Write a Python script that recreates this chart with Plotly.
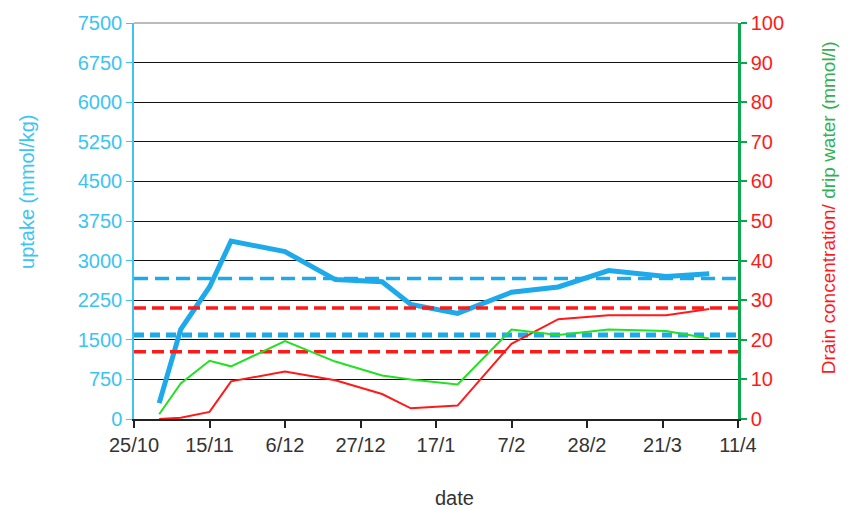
import pandas as pd
import plotly.graph_objects as go

# Sampling dates (season 2006/07) and measured series
dates = ["2006-11-01", "2006-11-07", "2006-11-15", "2006-11-21", "2006-12-06",
         "2006-12-20", "2007-01-02", "2007-01-10", "2007-01-23", "2007-02-07",
         "2007-02-20", "2007-03-06", "2007-03-22", "2007-04-03"]
uptake = [300, 1700, 2500, 3370, 3170, 2640, 2600, 2170, 2000, 2400, 2500, 2810, 2700, 2750]
drip_water = [1.2, 9.0, 14.7, 13.3, 19.7, 14.5, 11.0, 10.0, 8.7, 22.6, 21.2, 22.6, 22.2, 20.3]
drain = [0.0, 0.3, 1.8, 9.5, 12.0, 9.8, 6.3, 2.7, 3.4, 19.0, 25.2, 26.2, 26.2, 27.8]

# Reference levels
uptake_upper, uptake_lower = 2660, 1590
drain_upper, drain_lower = 28, 17

# Axis ticks
x_ticks = ["2006-10-25", "2006-11-15", "2006-12-06", "2006-12-27", "2007-01-17",
           "2007-02-07", "2007-02-28", "2007-03-21", "2007-04-11"]
x_labels = ["25/10", "15/11", "6/12", "27/12", "17/1", "7/2", "28/2", "21/3", "11/4"]
y_left_ticks = [0, 750, 1500, 2250, 3000, 3750, 4500, 5250, 6000, 6750, 7500]
y_right_ticks = [0, 10, 20, 30, 40, 50, 60, 70, 80, 90, 100]

x0, x1 = x_ticks[0], x_ticks[-1]
dts = pd.to_datetime(dates)

BLUE = "#1eaaea"
BLUE_TXT = "#3cc4f2"
RED = "#ff1a1a"
GREEN_LINE = "#22e022"
GREEN_AX = "#0aa84a"
FONT = "Liberation Sans, Arial, sans-serif"

fig = go.Figure()

# horizontal reference levels
fig.add_trace(go.Scatter(x=[x0, x1], y=[uptake_upper] * 2, mode="lines",
                         line=dict(color=BLUE, width=3.5, dash="14px,7px"),
                         hoverinfo="skip", showlegend=False))
fig.add_trace(go.Scatter(x=[x0, x1], y=[uptake_lower] * 2, mode="lines",
                         line=dict(color=BLUE, width=5, dash="10px,6px"),
                         hoverinfo="skip", showlegend=False))
fig.add_trace(go.Scatter(x=[x0, x1], y=[drain_upper] * 2, mode="lines", yaxis="y2",
                         line=dict(color=RED, width=3.5, dash="12px,6px"),
                         hoverinfo="skip", showlegend=False))
fig.add_trace(go.Scatter(x=[x0, x1], y=[drain_lower] * 2, mode="lines", yaxis="y2",
                         line=dict(color=RED, width=3.5, dash="12px,6px"),
                         hoverinfo="skip", showlegend=False))

# measured series
fig.add_trace(go.Scatter(x=dts, y=drain, mode="lines", yaxis="y2", name="drain",
                         line=dict(color=RED, width=2)))
fig.add_trace(go.Scatter(x=dts, y=drip_water, mode="lines", yaxis="y2", name="drip water",
                         line=dict(color=GREEN_LINE, width=2)))
fig.add_trace(go.Scatter(x=dts, y=uptake, mode="lines", name="uptake",
                         line=dict(color=BLUE, width=5)))

fig.update_layout(
    width=848, height=509,
    margin=dict(l=134, r=110, t=19, b=90),
    paper_bgcolor="white", plot_bgcolor="white",
    showlegend=False,
    font=dict(family=FONT, size=20, color="#333333"),
    xaxis=dict(
        type="date", range=[x0, x1],
        tickmode="array", tickvals=x_ticks, ticktext=x_labels,
        showgrid=False, zeroline=False,
        showline=True, linecolor="#222222", linewidth=1.5,
        ticks="outside", ticklen=7, tickwidth=1.5, tickcolor="#222222",
        tickfont=dict(size=20, color="#333333"),
    ),
    yaxis=dict(
        range=[0, 7500], tickmode="array", tickvals=y_left_ticks,
        showgrid=True, gridcolor="#111111", gridwidth=1,
        zeroline=False,
        showline=True, linecolor=BLUE_TXT, linewidth=1.5,
        ticks="outside", ticklen=6, tickcolor=BLUE_TXT,
        tickfont=dict(size=20, color=BLUE_TXT),
    ),
    yaxis2=dict(
        range=[0, 100], overlaying="y", side="right",
        tickmode="array", tickvals=y_right_ticks,
        showgrid=False, zeroline=False,
        showline=True, linecolor=GREEN_AX, linewidth=2.5,
        ticks="outside", ticklen=6, tickwidth=2, tickcolor=GREEN_AX,
        tickfont=dict(size=20, color=RED),
    ),
)

# top border line at the highest gridline
fig.add_shape(type="line", xref="paper", yref="paper", x0=0, x1=1, y0=1, y1=1,
              line=dict(color="#777777", width=1))

# axis titles
fig.add_annotation(text="uptake (mmol/kg)", xref="paper", yref="paper",
                   x=-0.176, y=0.575, xanchor="center", yanchor="middle",
                   textangle=-90, showarrow=False,
                   font=dict(size=20, color=BLUE_TXT))
fig.add_annotation(
    text="<span style='color:%s'>Drain concentration/</span>"
         "<span style='color:%s'> drip water (mmol/l)</span>" % (RED, "#33b050"),
    xref="paper", yref="paper", x=1.149, y=0.535, xanchor="center", yanchor="middle",
    textangle=-90, showarrow=False, font=dict(size=19))
fig.add_annotation(text="date", xref="paper", yref="paper", x=0.53, y=-0.2,
                   xanchor="center", yanchor="middle", showarrow=False,
                   font=dict(size=20, color="#333333"))

fig.write_html("out.html")
